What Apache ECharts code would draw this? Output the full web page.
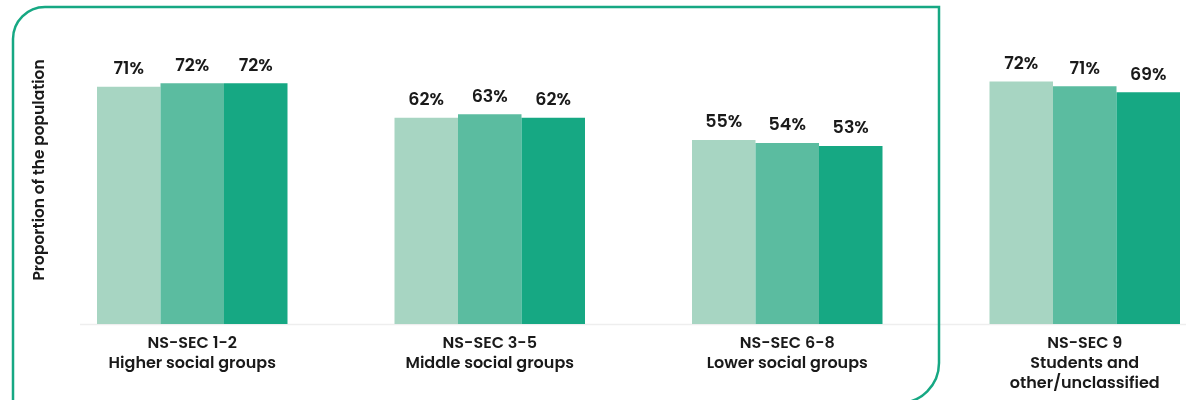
<!DOCTYPE html>
<html>
<head>
<meta charset="utf-8">
<script src="https://cdn.jsdelivr.net/npm/echarts@6/dist/echarts.min.js"></script>
<style>
html,body{margin:0;padding:0;background:#fff;}
#chart{width:1186px;height:400px;}
</style>
</head>
<body>
<div id="chart"></div>
<script>
const categories = [
  'NS-SEC 1-2\nHigher social groups',
  'NS-SEC 3-5\nMiddle social groups',
  'NS-SEC 6-8\nLower social groups',
  'NS-SEC 9\nStudents and\nother/unclassified'
];
const seriesA = [70.8, 61.6, 54.9, 72.4];
const seriesB = [71.9, 62.6, 54.0, 71.0];
const seriesC = [71.9, 61.6, 53.1, 69.2];
const yAxisTitle = 'Proportion of the population';

const FONT = 'Poppins, Inter, sans-serif';
const colors = ['#a7d5c2', '#5bbca0', '#16a883'];

const chart = echarts.init(document.getElementById('chart'), null, {renderer: 'canvas'});

function mk(name, data, color) {
  return {
    name: name,
    type: 'bar',
    data: data,
    barWidth: 63.5,
    barGap: '0%',
    itemStyle: {color: color},
    label: {
      show: true,
      position: 'top',
      distance: 8,
      formatter: p => Math.round(p.value) + '%',
      color: '#1a1a1a',
      fontFamily: FONT,
      fontSize: 17.5,
      fontWeight: 600
    }
  };
}

chart.setOption({
  animation: false,
  backgroundColor: '#ffffff',
  grid: {left: 43.5, width: 1190, top: 56, height: 268, outerBoundsMode: 'none', containLabel: false},
  xAxis: {
    type: 'category',
    data: categories,
    axisLine: {show: false},
    axisTick: {show: false},
    axisLabel: {
      interval: 0,
      margin: 10,
      color: '#1a1a1a',
      fontFamily: FONT,
      fontSize: 16,
      fontWeight: 600,
      lineHeight: 20
    }
  },
  yAxis: {type: 'value', min: 0, max: 80, show: false},
  series: [
    mk('A', seriesA, colors[0]),
    mk('B', seriesB, colors[1]),
    mk('C', seriesC, colors[2])
  ],
  graphic: [
    {
      type: 'line', z: 0,
      shape: {x1: 80, y1: 324.5, x2: 1186, y2: 324.5},
      style: {stroke: '#eeeeee', lineWidth: 1.5}
    },
    {
      type: 'rect', z: 10,
      shape: {x: 13, y: 7, width: 926, height: 396, r: [32, 0, 40, 0]},
      style: {fill: 'none', stroke: '#16a883', lineWidth: 2.5}
    },
    {
      type: 'text', z: 10,
      x: 40, y: 170, rotation: Math.PI / 2,
      style: {
        text: yAxisTitle,
        fill: '#1a1a1a',
        font: '600 15.5px ' + FONT,
        align: 'center',
        verticalAlign: 'middle'
      }
    }
  ]
});
</script>
</body>
</html>
